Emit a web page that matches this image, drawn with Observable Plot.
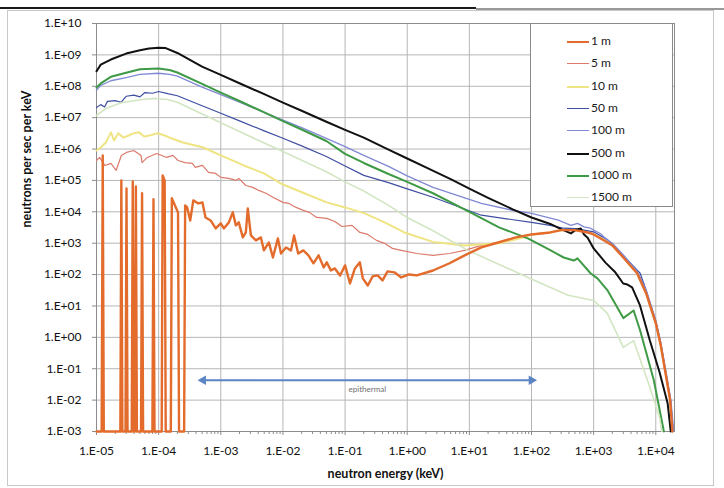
<!DOCTYPE html>
<html><head><meta charset="utf-8">
<script src="https://cdn.jsdelivr.net/npm/d3@7"></script>
<script src="https://cdn.jsdelivr.net/npm/@observablehq/plot@0.6"></script>
<style>
body{margin:0;background:#fff;}
#wrap{position:relative;width:724px;height:488px;font-family:Lato,"Open Sans",sans-serif;overflow:hidden;}
#legend{position:absolute;left:530px;top:23px;width:143px;height:184px;border:1px solid #8a8a8a;background:#fff;box-sizing:border-box;}
.li{position:absolute;left:0;height:20px;font-size:12px;color:#1a1a1a;}
.li span.sw{position:absolute;left:36px;top:9px;width:22px;height:0;border-top-style:solid;}
.li span.tx{position:absolute;left:60px;top:1px;white-space:nowrap;}
</style></head><body><div id="wrap"></div>
<script>
// ---------- data ----------
const seriesNames = ["1 m","5 m","10 m","50 m","100 m","500 m","1000 m","1500 m"];
const seriesColors = ["#e36c2c","#dc7a6c","#efe483","#3f4ea0","#8088d4","#111111","#3f9a46","#d3e6c2"];
const seriesWidths = [2.4,1.2,2,1.2,1.3,2,2,1.6];

const s1m = [[1e-5,0],[1.21e-5,0],[1.26e-5,6.25e5],[1.31e-5,0],[2.42e-5,0],[2.51e-5,1.0e5],[2.61e-5,0],[2.93e-5,0],[3.04e-5,5.6e4],[3.16e-5,0],[3.69e-5,0],[3.83e-5,9.3e4],[3.98e-5,0],[4.14e-5,0],[4.30e-5,6.4e4],[4.47e-5,0],[5.21e-5,0],[5.41e-5,3.9e4],[5.62e-5,0],[7.94e-5,0],[8.26e-5,2.5e4],[8.58e-5,0],[1.12e-4,0],[1.16e-4,1.44e5],[1.25e-4,1.0e5],[1.30e-4,0],[1.57e-4,0],[1.63e-4,2.7e4],[1.83e-4,1.6e4],[2.05e-4,9.6e3],[2.13e-4,0],[2.57e-4,0],[2.67e-4,1.6e4],[2.88e-4,1.38e4],[3.22e-4,5.3e3],[3.61e-4,2.31e4],[4.36e-4,1.85e4],[5.07e-4,1.99e4],[5.68e-4,6.6e3],[6.86e-4,5.3e3],[8.28e-4,2.96e3],[1.0e-3,4.3e3],[1.12e-3,2.96e3],[1.35e-3,4.6e3],[1.56e-3,9.6e3],[1.75e-3,3.7e3],[1.95e-3,4.6e3],[2.26e-3,1.53e3],[2.53e-3,2.21e3],[2.72e-3,1.28e4],[3.05e-3,1.77e3],[3.67e-3,1.23e3],[4.42e-3,1.53e3],[4.94e-3,5.9e2],[5.94e-3,1.06e3],[6.90e-3,3.5e2],[8.3e-3,1.42e3],[9.3e-3,4.7e2],[1.12e-2,7.3e2],[1.35e-2,5.9e2],[1.51e-2,1.77e3],[1.76e-2,4.7e2],[2.13e-2,5.9e2],[2.57e-2,4.1e2],[3.10e-2,2.28e2],[3.75e-2,4.1e2],[4.53e-2,1.69e2],[5.07e-2,2.45e2],[5.9e-2,1.36e2],[6.85e-2,1.57e2],[8.3e-2,94],[0.1,1.96e2],[0.12,52],[0.144,1.57e2],[0.173,2.45e2],[0.193,76],[0.232,45],[0.278,88],[0.334,94],[0.401,65],[0.482,1.26e2],[0.622,1.18e2],[0.803,81],[1.07,1.01e2],[1.43,94],[2.6,1.35e2],[4.8,2.3e2],[8.4,4.1e2],[15.6,7.4e2],[30,1.07e3],[54,1.5e3],[100,1.9e3],[200,2.2e3],[300,2.6e3],[500,2.6e3],[800,2.2e3],[1000,1.9e3],[1500,1.2e3],[2000,850],[3000,350],[5000,110],[7000,25],[1e4,2.8],[1.2e4,0.56],[1.5e4,0.043],[1.7e4,0.01],[1.85e4,0.001]];

const s5m = [[1e-5,4.3e5],[1.12e-5,5.4e5],[1.36e-5,3.0e5],[1.71e-5,3.5e5],[2.07e-5,2.1e5],[2.51e-5,6.25e5],[3.04e-5,7.8e5],[3.98e-5,9.0e5],[5.21e-5,6.25e5],[5.41e-5,3.7e5],[6.56e-5,5.4e5],[9.27e-5,7.2e5],[1.12e-4,6.25e5],[1.35e-4,5.4e5],[1.70e-4,6.25e5],[2.05e-4,4.3e5],[2.67e-4,3.7e5],[3.48e-4,3.5e5],[3.89e-4,2.6e5],[5.07e-4,3.0e5],[6.35e-4,1.8e5],[8.28e-4,1.67e5],[1e-3,1.25e5],[1.35e-3,1.16e5],[1.75e-3,1.0e5],[1.95e-3,1.16e5],[2.53e-3,6.9e4],[3.28e-3,6.0e4],[4.10e-3,4.8e4],[5.32e-3,3.9e4],[6.90e-3,2.9e4],[1e-2,2.0e4],[1.25e-2,1.85e4],[1.63e-2,1.38e4],[2.13e-2,1.11e4],[2.67e-2,9.6e3],[3.48e-2,6.6e3],[5.07e-2,6.2e3],[6.85e-2,4.9e3],[8.9e-2,3.4e3],[0.129,3.7e3],[0.173,2.2e3],[0.232,1.9e3],[0.32,1.23e3],[0.432,9.9e2],[0.578,6.8e2],[0.80,5.9e2],[1.43,4.7e2],[2.6,4.1e2],[4.8,4.7e2],[8.4,5.9e2],[15.6,8.5e2],[30,1.07e3],[54,1.5e3],[100,1.9e3],[200,2.2e3],[300,2.6e3],[500,2.6e3],[800,2.2e3],[1000,1.9e3],[1500,1.2e3],[2000,860],[3000,350],[5000,110],[7000,25],[1e4,2.8],[1.2e4,0.56],[1.5e4,0.043],[1.7e4,0.01],[1.85e4,0.001]];

const s10m = [[1e-5,9.0e5],[1.17e-5,1.12e6],[1.41e-5,1.62e6],[1.71e-5,3.4e6],[1.92e-5,1.86e6],[2.24e-5,3.2e6],[2.71e-5,2.3e6],[3.29e-5,2.7e6],[3.98e-5,3.2e6],[4.82e-5,3.4e6],[5.85e-5,2.5e6],[7.08e-5,2.7e6],[9.6e-5,3.2e6],[1.25e-4,2.7e6],[1.51e-4,2.3e6],[2.47e-4,1.62e6],[5.26e-4,1.12e6],[1e-3,6.25e5],[2.35e-3,3.0e5],[4.94e-3,1.67e5],[1e-2,7.4e4],[2.21e-2,3.9e4],[5.07e-2,2.0e4],[0.1,1.38e4],[0.207,8.9e3],[0.432,4.6e3],[0.896,2.2e3],[2.6,1.1e3],[8.4,8.5e2],[30,9.9e2],[69,1.45e3],[100,1.9e3],[200,2.2e3],[300,2.6e3],[500,2.65e3],[800,2.25e3],[1000,1.95e3],[1500,1.25e3],[2000,870],[3000,355],[5000,112],[7000,25],[1e4,2.8],[1.2e4,0.57],[1.5e4,0.044],[1.7e4,0.01],[1.85e4,0.001]];

const s50m = [[1e-5,2.1e7],[1.17e-5,2.6e7],[1.35e-5,2.2e7],[1.5e-5,3.3e7],[2e-5,3.5e7],[2.5e-5,3.1e7],[3e-5,4.8e7],[4e-5,5.2e7],[5e-5,4.6e7],[6e-5,6.3e7],[8e-5,6.0e7],[1e-4,6.8e7],[1.4e-4,5.8e7],[2e-4,5.0e7],[5e-4,2.4e7],[1e-3,1.38e7],[2e-3,7.9e6],[5e-3,3.8e6],[1e-2,2.2e6],[2e-2,1.26e6],[5e-2,5.8e5],[0.1,2.9e5],[0.2,1.45e5],[0.5,8.5e4],[1,5.4e4],[2.6,2.9e4],[15.6,7.8e3],[100,4.6e3],[200,3.7e3],[330,3.0e3],[500,2.9e3],[700,2.6e3],[1000,2.3e3],[1660,1.3e3],[2000,950],[3000,400],[5600,110],[7000,32],[1e4,3.2],[1.2e4,0.65],[1.5e4,0.05],[1.75e4,0.008],[1.9e4,0.001]];

const s100m = [[1e-5,7.4e7],[1.17e-5,1.07e8],[1.7e-5,1.5e8],[3e-5,1.9e8],[5e-5,2.4e8],[1e-4,2.6e8],[1.5e-4,2.4e8],[2e-4,2.1e8],[5e-4,9.4e7],[1e-3,5.4e7],[2e-3,3.1e7],[5e-3,1.48e7],[1e-2,8.3e6],[2e-2,4.8e6],[5e-2,2.2e6],[0.1,1.2e6],[0.2,6.3e5],[0.5,2.8e5],[1,1.4e5],[2.6,6.0e4],[15.6,1.86e4],[51,1.1e4],[100,8.9e3],[270,5.4e3],[430,3.7e3],[550,4.3e3],[700,3.3e3],[890,3.0e3],[1000,2.6e3],[1300,2.0e3],[1500,1.5e3],[2000,1.0e3],[3000,420],[5000,130],[7000,32],[1e4,3.5],[1.2e4,0.7],[1.5e4,0.06],[1.75e4,0.01],[1.95e4,0.001]];

const s500m = [[1e-5,3.0e8],[1.17e-5,4.9e8],[1.7e-5,7.1e8],[3e-5,1.1e9],[5e-5,1.4e9],[7e-5,1.6e9],[1e-4,1.7e9],[1.3e-4,1.65e9],[2e-4,1.15e9],[5e-4,4.2e8],[1e-3,2.3e8],[2e-3,1.25e8],[5e-3,5.6e7],[1e-2,3.0e7],[2e-2,1.66e7],[5e-2,7.4e6],[0.1,4.1e6],[0.2,2.3e6],[0.5,9.6e5],[1,5.0e5],[2,2.6e5],[5,1.1e5],[10,5.5e4],[20,2.8e4],[50,1.2e4],[100,6.6e3],[150,5.0e3],[200,4.1e3],[300,2.8e3],[430,2.05e3],[520,2.7e3],[620,2.95e3],[700,1.9e3],[800,1.5e3],[1000,680],[1250,400],[1550,240],[2230,118],[2990,52],[3500,48],[4160,39],[5570,10.4],[8030,0.79],[1.15e4,0.077],[1.55e4,0.008],[1.74e4,0.001]];

const s1000m = [[1e-5,9.1e7],[1.17e-5,1.23e8],[1.7e-5,2.0e8],[3e-5,2.7e8],[5e-5,3.5e8],[1e-4,3.7e8],[1.5e-4,3.3e8],[2e-4,2.75e8],[5e-4,1.19e8],[1e-3,6.3e7],[2e-3,3.4e7],[5e-3,1.47e7],[1e-2,7.8e6],[2e-2,4.2e6],[5e-2,1.8e6],[0.1,7.0e5],[0.2,3.6e5],[0.5,1.6e5],[1,9.0e4],[2.6,3.9e4],[10,1.0e4],[30,3.2e3],[89,1.4e3],[200,600],[330,350],[480,280],[550,330],[890,110],[1150,76],[1660,32],[3000,4.1],[4400,7.2],[5600,1.66],[9300,0.043],[1.35e4,0.001]];

const s1500m = [[1e-5,1.17e7],[1.41e-5,1.95e7],[2.5e-5,3.0e7],[5.4e-5,3.8e7],[9e-5,4.1e7],[1.4e-4,3.8e7],[2e-4,3.1e7],[5e-4,1.3e7],[1e-3,6.9e6],[2e-3,3.6e6],[5e-3,1.55e6],[1e-2,8.3e5],[2e-2,4.4e5],[5e-2,1.9e5],[0.1,9.0e4],[0.2,4.6e4],[0.5,1.6e4],[1,6.6e3],[2.6,2.5e3],[9.5,5.9e2],[110,66],[390,22],[1000,15],[1660,5.8],[3000,0.48],[4400,0.79],[8000,0.026],[1.15e4,0.0028],[1.25e4,0.001]];

const xTicks = [1e-5,1e-4,1e-3,1e-2,1e-1,1e0,1e1,1e2,1e3,1e4];
const xTickLabels = ["1.E-05","1.E-04","1.E-03","1.E-02","1.E-01","1.E+00","1.E+01","1.E+02","1.E+03","1.E+04"];
const yTicks = [1e-3,1e-2,1e-1,1e0,1e1,1e2,1e3,1e4,1e5,1e6,1e7,1e8,1e9,1e10];
const yTickLabels = ["1.E-03","1.E-02","1.E-01","1.E+00","1.E+01","1.E+02","1.E+03","1.E+04","1.E+05","1.E+06","1.E+07","1.E+08","1.E+09","1.E+10"];
const xDomain = [1e-5, 2e4];
const yDomain = [1e-3, 1e10];
const xTitle = "neutron energy (keV)";
const yTitle = "neutrons per sec per keV";
const epithermalSpan = [5.2e-4, 100];
const epithermalLevel = 0.043;
const epithermalLabel = "epithermal";

// ---------- build ----------
const allSeries = [s1m, s5m, s10m, s50m, s100m, s500m, s1000m, s1500m];
const rowsFor = (arr) => arr.map(([e, f]) => ({e, f: Math.max(f, yDomain[0])}));
const xLab = new Map(xTicks.map((t, i) => [t, xTickLabels[i]]));
const yLab = new Map(yTicks.map((t, i) => [t, yTickLabels[i]]));
const minorX = [];
for (let p = -5; p <= 3; p++) for (let k = 2; k <= 9; k++) minorX.push(k * Math.pow(10, p));

const drawOrder = [1, 2, 3, 4, 5, 6, 7, 0];
const lineMarks = drawOrder.map(i => Plot.line(rowsFor(allSeries[i]), {
  x: "e", y: "f", stroke: seriesColors[i], strokeWidth: seriesWidths[i], strokeLinejoin: "round"
}));

const arrowColor = "#5b84c4";
const epiMid = Math.sqrt(epithermalSpan[0] * epithermalSpan[1]);

const chart = Plot.plot({
  width: 724, height: 488,
  marginLeft: 96, marginRight: 50, marginTop: 23, marginBottom: 57,
  x: {type: "log", domain: xDomain},
  y: {type: "log", domain: yDomain},
  style: {fontFamily: "Lato, 'Open Sans', sans-serif", fontSize: "12px", color: "#111", background: "transparent"},
  marks: [
    Plot.ruleX(xTicks, {stroke: "#b6b6b6"}),
    Plot.ruleY(yTicks, {stroke: "#b6b6b6"}),
    Plot.frame({stroke: "#8c8c8c"}),
    Plot.axisX({ticks: minorX, tickSize: 3, tickFormat: () => "", label: null, stroke: "#8c8c8c"}),
    Plot.axisX({ticks: xTicks, tickSize: 4, tickPadding: 11, tickFormat: d => xLab.get(d), label: null, stroke: "#8c8c8c"}),
    Plot.axisY({ticks: yTicks, tickSize: 4, tickPadding: 11, tickFormat: d => yLab.get(d), label: null, stroke: "#8c8c8c"}),
    ...lineMarks,
    Plot.line(epithermalSpan.map(x => ({x, y: epithermalLevel})), {x: "x", y: "y", stroke: arrowColor, strokeWidth: 2}),
    Plot.dot([{x: epithermalSpan[0], r: -90}, {x: epithermalSpan[1], r: 90}], {x: "x", y: () => epithermalLevel, symbol: "triangle", rotate: "r", r: 3.6, fill: arrowColor, stroke: "none"}),
    Plot.text([epithermalLabel], {x: () => epiMid, y: () => epithermalLevel, dy: 9, fontSize: 8, fill: "#6f6f6f"}),
    Plot.text([xTitle], {frameAnchor: "bottom", dy: 46, fontWeight: "bold", fontSize: 12.5, fill: "#111"}),
    Plot.text([yTitle], {frameAnchor: "left", dx: -70, rotate: -90, fontWeight: "bold", fontSize: 12.5, fill: "#111"})
  ]
});

const wrap = document.getElementById("wrap");
wrap.appendChild(chart);

// chart-area frame and scan edge
const svg = d3.select(chart);
svg.insert("rect", ":first-child").attr("x", 7.5).attr("y", 10.5).attr("width", 706).attr("height", 475)
  .attr("fill", "#fff").attr("stroke", "#c8c8c8");
svg.append("line").attr("x1", 0).attr("x2", 476).attr("y1", 8).attr("y2", 8).attr("stroke", "#1a1a1a").attr("stroke-width", 2);
svg.append("line").attr("x1", 476).attr("x2", 724).attr("y1", 9).attr("y2", 9).attr("stroke", "#777").attr("stroke-width", 1.5);

// legend
const lg = document.createElement("div");
lg.id = "legend";
seriesNames.forEach((name, i) => {
  const it = document.createElement("div");
  it.className = "li";
  it.style.top = (8 + 22.3 * i) + "px";
  it.style.width = "140px";
  const sw = document.createElement("span");
  sw.className = "sw";
  sw.style.borderTopColor = seriesColors[i];
  sw.style.borderTopWidth = Math.max(1.5, seriesWidths[i]) + "px";
  const tx = document.createElement("span");
  tx.className = "tx";
  tx.textContent = name;
  it.appendChild(sw); it.appendChild(tx);
  lg.appendChild(it);
});
wrap.appendChild(lg);
</script></body></html>
